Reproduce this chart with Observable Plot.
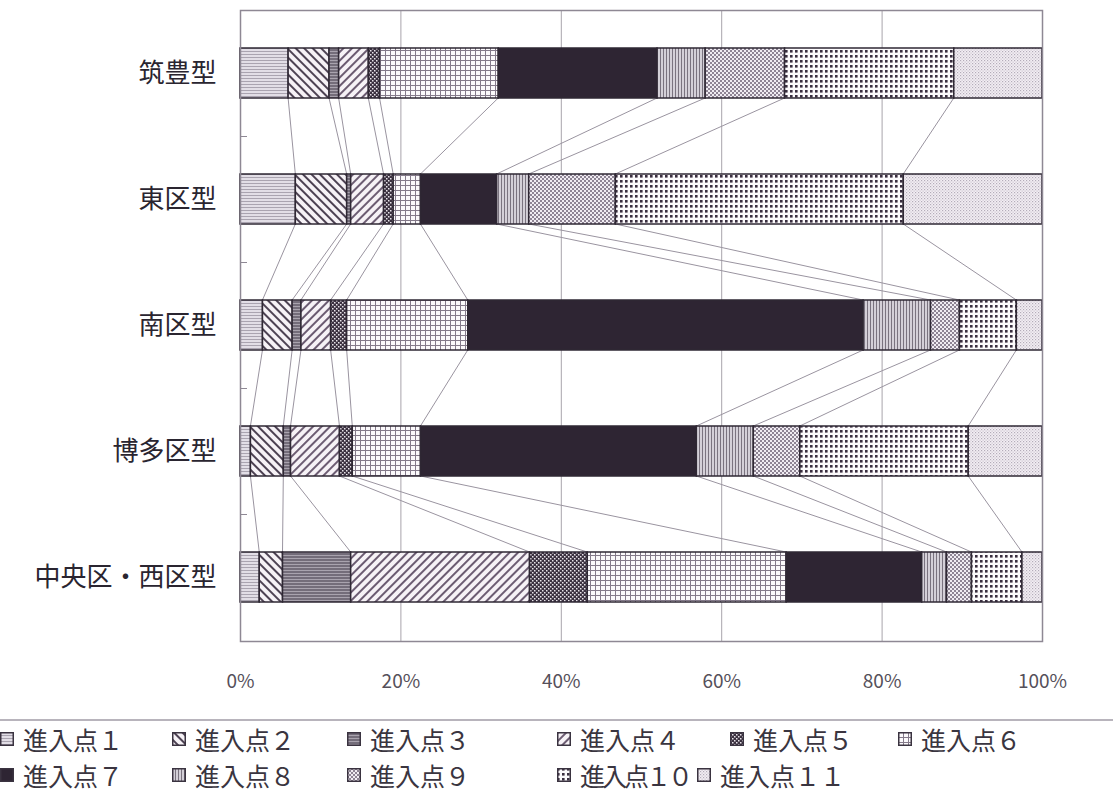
<!DOCTYPE html>
<html>
<head>
<meta charset="utf-8">
<script src="https://cdn.jsdelivr.net/npm/d3@7"></script>
<script src="https://cdn.jsdelivr.net/npm/@observablehq/plot@0.6"></script>
<style>
  html, body { margin: 0; padding: 0; background: #ffffff; }
  body { width: 1113px; height: 801px; overflow: hidden; position: relative; font-family: "Noto Sans CJK JP", "Noto Sans", sans-serif; }
  #legend { position: absolute; left: 0; top: 719px; width: 1113px; height: 82px; border-top: 2px solid #b8b4bc; }
  .item { position: absolute; height: 36px; display: flex; align-items: center; white-space: nowrap; }
  .item svg { display: block; margin-right: 9px; flex: none; }
  .item span { display: inline-block; line-height: 36px; font-size: 25px; color: #3a3540; }
</style>
</head>
<body>
<svg width="0" height="0" style="position:absolute">
  <defs>
    <pattern id="p1" width="4" height="3" patternUnits="userSpaceOnUse">
      <rect width="4" height="3" fill="#e2dee6"/><rect width="4" height="1" fill="#aaa4b0"/>
    </pattern>
    <pattern id="p2" width="6" height="6" patternUnits="userSpaceOnUse" patternTransform="rotate(-45)">
      <rect width="6" height="6" fill="#f6f2f6"/><rect width="2" height="6" fill="#4d4253"/>
    </pattern>
    <pattern id="p3" width="4" height="3" patternUnits="userSpaceOnUse">
      <rect width="4" height="3" fill="#746d7a"/><rect width="4" height="1" fill="#a9a3ae"/>
    </pattern>
    <pattern id="p4" width="6" height="6" patternUnits="userSpaceOnUse" patternTransform="rotate(45)">
      <rect width="6" height="6" fill="#f6f2f6"/><rect width="2" height="6" fill="#6c5c72"/>
    </pattern>
    <pattern id="p5" width="4" height="4" patternUnits="userSpaceOnUse">
      <rect width="4" height="4" fill="#3b3140"/><rect x="0" y="0" width="1.5" height="1.5" fill="#e8e4ea"/><rect x="2" y="2" width="1.5" height="1.5" fill="#e8e4ea"/>
    </pattern>
    <pattern id="p6" width="5" height="5" patternUnits="userSpaceOnUse">
      <rect width="5" height="5" fill="#fbf9fb"/><rect width="5" height="1" fill="#847a8a"/><rect width="1" height="5" fill="#847a8a"/>
    </pattern>
    <pattern id="p7" width="4" height="4" patternUnits="userSpaceOnUse">
      <rect width="4" height="4" fill="#2e2533"/>
    </pattern>
    <pattern id="p8" width="3" height="3" patternUnits="userSpaceOnUse">
      <rect width="3" height="3" fill="#d4d0d8"/><rect width="1" height="3" fill="#7a737f"/>
    </pattern>
    <pattern id="p9" width="4" height="4" patternUnits="userSpaceOnUse">
      <rect width="4" height="4" fill="#f0ecf2"/><rect x="0" y="0" width="2" height="2" fill="#8e8494"/><rect x="2" y="2" width="2" height="2" fill="#8e8494"/>
    </pattern>
    <pattern id="p10" width="5" height="5" patternUnits="userSpaceOnUse">
      <rect width="5" height="5" fill="#fcfafc"/><rect x="0" y="0" width="2.6" height="2.6" fill="#3a2f40"/>
    </pattern>
    <pattern id="p11" width="3" height="3" patternUnits="userSpaceOnUse">
      <rect width="3" height="3" fill="#f3eff4"/><rect x="0" y="0" width="1.2" height="1.2" fill="#b4acb9"/><rect x="1.5" y="1.5" width="1.2" height="1.2" fill="#c8c0cc"/>
    </pattern>
  </defs>
</svg>
<div id="chart"></div>
<div id="legend"></div>
<script>
// ---- data (percent shares) ----
const categories = ["筑豊型", "東区型", "南区型", "博多区型", "中央区・西区型"];
const seriesNames = ["進入点１", "進入点２", "進入点３", "進入点４", "進入点５", "進入点６",
                     "進入点７", "進入点８", "進入点９", "進入点１０", "進入点１１"];
const chikuho  = [6.0, 5.1, 1.2, 3.7, 1.4, 14.8, 19.8, 6.0, 9.9, 21.1, 11.0];
const higashi  = [6.9, 6.4, 0.5, 4.1, 1.2, 3.4, 9.5, 4.0, 10.8, 35.9, 17.3];
const minami   = [2.8, 3.7, 1.1, 3.7, 2.0, 15.1, 49.3, 8.4, 3.6, 7.1, 3.2];
const hakata   = [1.3, 4.1, 0.9, 6.1, 1.6, 8.5, 34.4, 7.1, 5.8, 21.0, 9.2];
const chuoNishi = [2.4, 2.9, 8.5, 22.3, 7.2, 24.8, 16.9, 3.1, 3.1, 6.3, 2.5];
const xTicks = [0, 20, 40, 60, 80, 100];
const xTickLabels = ["0%", "20%", "40%", "60%", "80%", "100%"];

const valuesByCategory = [chikuho, higashi, minami, hakata, chuoNishi];
const patterns = seriesNames.map((_, i) => `url(#p${i + 1})`);

// long table for the stacked bars
const rows = [];
categories.forEach((c, ci) => {
  valuesByCategory[ci].forEach((v, si) => rows.push({cat: c, series: seriesNames[si], value: v}));
});

// series lines between adjacent bars (cumulative boundaries)
const cums = valuesByCategory.map(vals => d3.cumsum(vals));
const links = [];
for (let ci = 0; ci < categories.length - 1; ci++) {
  for (let si = 0; si < seriesNames.length - 1; si++) {
    links.push({ca: categories[ci], cb: categories[ci + 1], xa: cums[ci][si], xb: cums[ci + 1][si]});
  }
}

const chart = Plot.plot({
  width: 1113,
  height: 705,
  marginLeft: 240,
  marginRight: 71,
  marginTop: 10,
  marginBottom: 64,
  style: {fontFamily: '"Noto Sans CJK JP", "Noto Sans", sans-serif', background: "transparent"},
  x: {domain: [0, 100], axis: null},
  y: {domain: categories, paddingInner: 0.6, paddingOuter: 0.3, axis: null},
  color: {domain: seriesNames, range: patterns},
  marks: [
    Plot.ruleX([20, 40, 60, 80], {stroke: "#a8a4ac", strokeWidth: 1}),
    Plot.link(links, {
      x1: "xa", x2: "xb", y1: "ca", y2: "cb",
      render(index, scales, values, dims) {
        const {x, y} = scales;
        const bw = y.bandwidth();
        const g = d3.create("svg:g").attr("stroke", "#9a94a0").attr("stroke-width", 1).attr("fill", "none");
        for (const i of index) {
          const d = links[i];
          g.append("line")
            .attr("x1", x(d.xa)).attr("y1", y(d.ca) + bw)
            .attr("x2", x(d.xb)).attr("y2", y(d.cb));
        }
        // small category-boundary ticks on the left axis
        const step = y.step();
        for (let k = 1; k < categories.length; k++) {
          const yy = Math.round(y(categories[k]) - (step - bw) / 2) + 0.5;
          g.append("line").attr("x1", dims.marginLeft).attr("x2", dims.marginLeft + 7)
            .attr("y1", yy).attr("y2", yy).attr("stroke", "#8e8894");
        }
        return g.node();
      }
    }),
    Plot.barX(rows, {x: "value", y: "cat", fill: "series", stroke: "#2f2834", strokeWidth: 1.5}),
    Plot.frame({stroke: "#8e8894", strokeWidth: 1.5}),
    Plot.axisX(xTicks, {anchor: "bottom", tickSize: 0, tickPadding: 33, fontSize: 19, fill: "#55505a",
      tickFormat: (d) => xTickLabels[xTicks.indexOf(d)]}),
    Plot.axisY(categories, {anchor: "left", tickSize: 0, tickPadding: 24, fontSize: 26, fill: "#2a2530"})
  ]
});
document.getElementById("chart").appendChild(chart);

// legend (swatch left edge, row)
const legendPos = [
  [0, 0], [172, 0], [347, 0], [557, 0], [730, 0], [898, 0],
  [0, 1], [172, 1], [347, 1], [557, 1], [697, 1]
];
const legend = document.getElementById("legend");
seriesNames.forEach((name, i) => {
  const div = document.createElement("div");
  div.className = "item";
  div.style.left = legendPos[i][0] + "px";
  div.style.top = (0 + legendPos[i][1] * 36) + "px";
  const ls = i === 9 ? "-3px" : "0px";
  div.innerHTML = `<svg width="14" height="14"><rect x="0.75" y="0.75" width="12.5" height="12.5" fill="${patterns[i]}" stroke="#3a3340" stroke-width="1.5"/></svg><span style="letter-spacing:${ls}">${name}</span>`;
  legend.appendChild(div);
});
</script>
</body>
</html>
